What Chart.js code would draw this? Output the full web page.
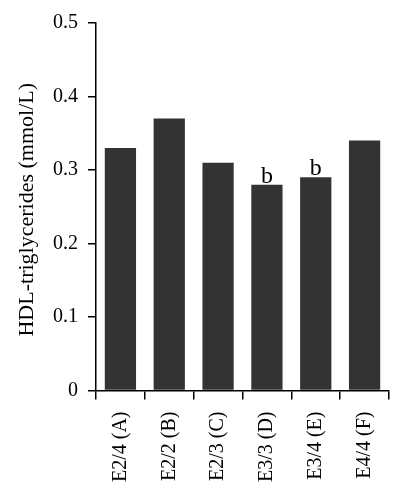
<!DOCTYPE html>
<html>
<head>
<meta charset="utf-8">
<script src="https://cdn.jsdelivr.net/npm/chart.js@4.4.1/dist/chart.umd.min.js"></script>
<style>
  html, body { margin: 0; padding: 0; background: #fff; }
  #wrap { width: 405px; height: 500px; }
</style>
</head>
<body>
<div id="wrap"><canvas id="chart" width="405" height="500"></canvas></div>
<script>
const categories = ['E2/4 (A)', 'E2/2 (B)', 'E2/3 (C)', 'E3/3 (D)', 'E3/4 (E)', 'E4/4 (F)'];
const hdlValues = [0.33, 0.37, 0.31, 0.28, 0.29, 0.34];
const barMarks = ['', '', '', 'b', 'b', ''];
const yTickLabels = ['0', '0.1', '0.2', '0.3', '0.4', '0.5'];
const yTitle = 'HDL-triglycerides (mmol/L)';

const serif = '"Liberation Serif", "DejaVu Serif", serif';

// letters over bars + rotated y title
const extras = {
    id: 'extras',
    afterDatasetsDraw(chart) {
        const ctx = chart.ctx;
        const meta = chart.getDatasetMeta(0);
        ctx.save();
        ctx.fillStyle = '#000';
        ctx.font = '24px ' + serif;
        ctx.textAlign = 'center';
        ctx.textBaseline = 'alphabetic';
        meta.data.forEach((bar, i) => {
            if (barMarks[i]) ctx.fillText(barMarks[i], bar.x, bar.y - 2);
        });
        ctx.restore();

        const area = chart.chartArea;
        ctx.save();
        ctx.fillStyle = '#000';
        ctx.font = '22px ' + serif;
        ctx.translate(32.5, (area.top + area.bottom) / 2 + 3);
        ctx.rotate(-Math.PI / 2);
        ctx.textAlign = 'center';
        ctx.textBaseline = 'alphabetic';
        ctx.fillText(yTitle, 0, 0);
        ctx.restore();
    }
};

new Chart(document.getElementById('chart'), {
    type: 'bar',
    data: {
        labels: categories,
        datasets: [{
            data: hdlValues,
            backgroundColor: '#333333',
            borderWidth: 0,
            categoryPercentage: 1,
            barPercentage: 0.64
        }]
    },
    options: {
        responsive: false,
        animation: false,
        devicePixelRatio: 1,
        layout: { padding: { left: 0, top: 23, right: 16, bottom: 0 } },
        plugins: { legend: { display: false }, tooltip: { enabled: false } },
        scales: {
            x: {
                afterFit: s => { s.height = 109.5; },
                border: { display: true, color: '#000', width: 1.5 },
                grid: { drawOnChartArea: false, drawTicks: true, tickLength: 9, color: '#000', lineWidth: 1.5, offset: true },
                ticks: { color: '#000', font: { family: serif, size: 20 }, minRotation: 90, maxRotation: 90, padding: 12 }
            },
            y: {
                min: 0,
                max: 0.5,
                afterFit: s => { s.width = 96; },
                border: { display: true, color: '#000', width: 1.5 },
                grid: { drawOnChartArea: false, drawTicks: true, tickLength: 8, color: '#000', lineWidth: 1.5 },
                ticks: {
                    stepSize: 0.1,
                    color: '#000',
                    padding: 10,
                    font: { family: serif, size: 20 },
                    callback: (v, i) => yTickLabels[i]
                }
            }
        }
    },
    plugins: [extras]
});
</script>
</body>
</html>
